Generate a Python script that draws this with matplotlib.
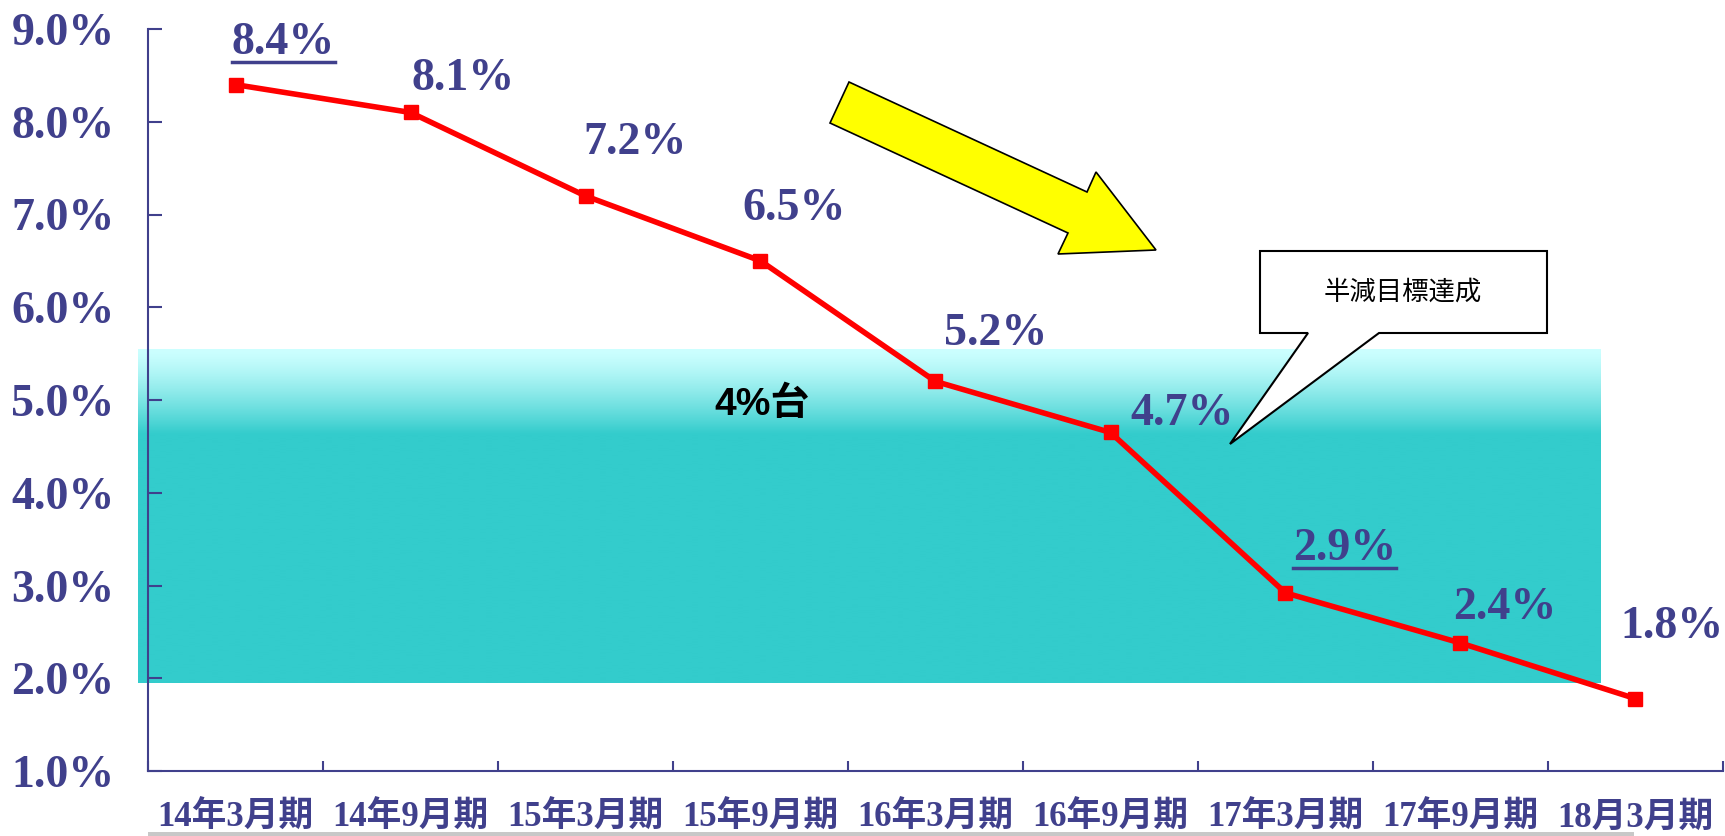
import numpy as np
import matplotlib
matplotlib.use('Agg')
import matplotlib.pyplot as plt
from matplotlib.patches import Polygon, Rectangle
from matplotlib.lines import Line2D

periods = ['14年3月期', '14年9月期', '15年3月期', '15年9月期', '16年3月期',
           '16年9月期', '17年3月期', '17年9月期', '18月3月期']
rates = [8.4, 8.1, 7.2, 6.5, 5.2, 4.65, 2.92, 2.38, 1.78]
rate_labels = ['8.4%', '8.1%', '7.2%', '6.5%', '5.2%', '4.7%', '2.9%', '2.4%', '1.8%']
underlined = [0, 6]
y_ticks = [1, 2, 3, 4, 5, 6, 7, 8, 9]

# band "4%台": solid part and gradient top, in data units
band_bottom, band_solid_top, band_top = 1.95, 4.64, 5.55
band_left, band_right = -0.557, 7.8

# label offsets in pixels (dx, dy)
offsets = [(48, 42), (53, 33), (50, 53), (34, 52), (60, 47),
           (72, 18), (59, 44), (44, 35), (36, 72)]

navy = '#40408C'
W, H = 1725, 836
fig = plt.figure(figsize=(W / 100, H / 100), dpi=100)
ax = fig.add_axes([148 / W, 65 / H, 1575 / W, 742 / H])

x = np.arange(len(periods))

# gradient band
n = 200
ys = np.linspace(band_top, band_bottom, n)
top_c = np.array([204, 255, 255]) / 255
bot_c = np.array([51, 204, 204]) / 255
t = np.clip((band_top - ys) / (band_top - band_solid_top), 0, 1)[:, None] ** 1.3
img = (top_c * (1 - t) + bot_c * t)[:, None, :]
im = ax.imshow(img, extent=[band_left, band_right, band_bottom, band_top],
               aspect='auto', zorder=0, interpolation='bilinear')
im.set_clip_on(False)

ax.plot(x, rates, color='#FF0000', lw=4, marker='s', ms=10, zorder=3)

serif = ['Liberation Serif', 'Noto Sans CJK JP']
texts = []
for i, (v, lab) in enumerate(zip(rates, rate_labels)):
    t_ = ax.annotate(lab, (x[i], v), xytext=offsets[i], textcoords='offset pixels',
                     ha='center', va='center', fontsize=33, fontweight='bold',
                     family='Liberation Serif', color=navy, zorder=4)
    texts.append(t_)

ax.text(3.01, 4.95, '4%台', ha='center', va='center', fontsize=28, fontweight='bold',
        family=['Liberation Sans', 'Noto Sans CJK JP'], color='black', zorder=4)

ax.set_xlim(-0.5, 8.5)
ax.set_ylim(1, 9)
ax.set_yticks(y_ticks)
ax.set_yticklabels([f'{v:.1f}%' for v in y_ticks], family='Liberation Serif',
                   fontweight='bold', fontsize=33, color=navy)
ax.set_xticks(x)
ax.set_xticklabels(periods, family=serif, fontweight='bold', fontsize=25, color=navy)
ax.set_xticks(np.arange(-0.5, 9, 1), minor=True)
ax.tick_params(axis='x', which='major', length=0, pad=22)
ax.tick_params(axis='x', which='minor', direction='in', length=7, width=1.5, color=navy)
ax.tick_params(axis='y', direction='in', length=10, width=1.5, color=navy, pad=24)
for s in ['top', 'right']:
    ax.spines[s].set_visible(False)
for s in ['left', 'bottom']:
    ax.spines[s].set_color(navy)
    ax.spines[s].set_linewidth(1.5)
ax.set_facecolor('none')


def px(pts):
    return [(a / W, 1 - b / H) for a, b in pts]


# yellow arrow
arrow = [(849, 82), (1087, 192), (1096, 172), (1156, 250), (1058, 254),
         (1068, 233), (830, 123)]
fig.patches.append(Polygon(px(arrow), closed=True, facecolor='#FFFF00', edgecolor='black',
                           lw=1.2, transform=fig.transFigure, zorder=5))

# callout
callout = [(1260, 251), (1547, 251), (1547, 333), (1379, 333), (1230, 444),
           (1308, 333), (1260, 333)]
fig.patches.append(Polygon(px(callout), closed=True, facecolor='white', edgecolor='black',
                           lw=1.5, transform=fig.transFigure, zorder=5))
fig.text(1403 / W, 1 - 292 / H, '半減目標達成', ha='center', va='center', fontsize=19,
         family=['Noto Sans CJK JP'], color='black', zorder=6)

# strip at the bottom
fig.patches.append(Rectangle((148 / W, 0), (1634 - 148) / W, 4 / H, facecolor='#C8C8C8',
                             edgecolor='none', transform=fig.transFigure))

# underlines
fig.canvas.draw()
r = fig.canvas.get_renderer()
inv = fig.transFigure.inverted()
for i in underlined:
    bb = texts[i].get_window_extent(r)
    (x0, y0), (x1, _) = inv.transform([(bb.x0, bb.y0 + 2), (bb.x1, bb.y0 + 2)])
    fig.lines.append(Line2D([x0, x1], [y0, y0], color=navy, lw=2.5,
                            transform=fig.transFigure))

fig.savefig('out.png', dpi=100)
